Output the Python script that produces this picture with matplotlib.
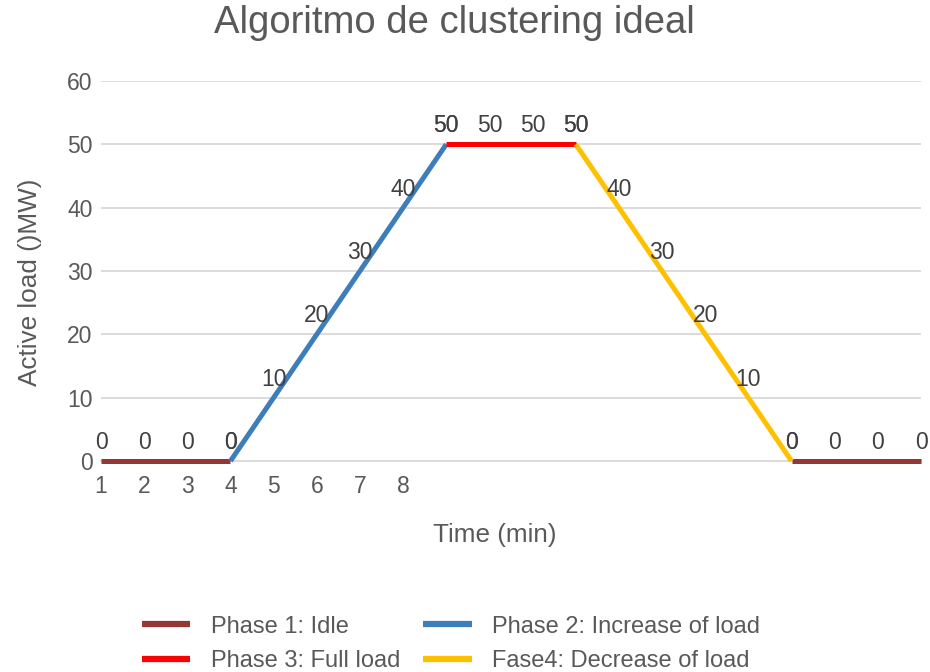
import matplotlib
matplotlib.use("Agg")
import matplotlib.pyplot as plt
import numpy as np

plt.rcParams['font.family'] = ['Liberation Sans', 'DejaVu Sans']

tick_labels = ["1", "2", "3", "4", "5", "6", "7", "8"]

phase1_x = [1, 2, 3, 4, 17, 18, 19, 20]
phase1_y = [0, 0, 0, 0, 0, 0, 0, 0]
phase2_x = [4, 5, 6, 7, 8, 9]
phase2_y = [0, 10, 20, 30, 40, 50]
phase3_x = [9, 10, 11, 12]
phase3_y = [50, 50, 50, 50]
phase4_x = [12, 13, 14, 15, 16, 17]
phase4_y = [50, 40, 30, 20, 10, 0]

names = ["Phase 1: Idle", "Phase 2: Increase of load",
         "Phase 3: Full load", "Fase4: Decrease of load"]
colors = ["#953735", "#3D7EBA", "#FF0000", "#FFC000"]

W, H = 930, 672
fig = plt.figure(figsize=(W/100, H/100), dpi=100)
ax = fig.add_axes([101/W, 1-461/H, (921-101)/W, (461-81)/H])

gray = "#595959"
grid = "#D9D9D9"
LW = 3.6

l1, = ax.plot(phase1_x[:4], phase1_y[:4], color=colors[0], lw=LW, solid_capstyle='butt', zorder=3, clip_on=False)
ax.plot(phase1_x[4:], phase1_y[4:], color=colors[0], lw=LW, solid_capstyle='butt', zorder=3, clip_on=False)
l2, = ax.plot(phase2_x, phase2_y, color=colors[1], lw=LW, solid_capstyle='butt', zorder=3, clip_on=False)
l3, = ax.plot(phase3_x, phase3_y, color=colors[2], lw=LW, solid_capstyle='butt', zorder=3, clip_on=False)
l4, = ax.plot(phase4_x, phase4_y, color=colors[3], lw=LW, solid_capstyle='butt', zorder=3, clip_on=False)

for xs, ys in [(phase1_x, phase1_y), (phase2_x, phase2_y), (phase3_x, phase3_y), (phase4_x, phase4_y)]:
    for xv, yv in zip(xs, ys):
        ax.annotate(str(yv), (xv, yv), xytext=(0, 18.5), textcoords='offset pixels',
                    ha='center', va='center', fontsize=16.5, color="#404040", zorder=4,
                    annotation_clip=False)

ax.set_xlim(1, 20)
ax.set_ylim(0, 60)
ax.set_yticks(range(0, 61, 10))
ax.set_xticks(range(1, 9))
ax.set_xticklabels(tick_labels)
ax.tick_params(axis='both', length=0, labelsize=16.5, labelcolor=gray)
ax.tick_params(axis='x', pad=10)
ax.tick_params(axis='y', pad=6)
ax.grid(axis='y', color=grid, lw=1.3)
ax.set_axisbelow(True)
for s in ['top', 'right', 'left']:
    ax.spines[s].set_visible(False)
ax.spines['bottom'].set_color(grid)
ax.spines['bottom'].set_linewidth(1.3)

fig.text(454/W, 1-23/H, "Algoritmo de clustering ideal", ha='center', va='center',
         fontsize=27.5, color=gray)
fig.text(30/W, 1-282/H, "Active load ()MW)", rotation=90, ha='center', va='center',
         fontsize=18.8, color=gray)
fig.text(495/W, 1-535/H, "Time (min)", ha='center', va='center', fontsize=18.8, color=gray)

# row-wise order: matplotlib fills columns first
handles = [l1, l3, l2, l4]
labels = [names[0], names[2], names[1], names[3]]
leg = fig.legend(handles, labels, ncol=2, loc='center',
                 bbox_to_anchor=(451/W, 1-644/H), frameon=False, fontsize=17,
                 handlelength=2.05, handletextpad=0.85, columnspacing=1.0,
                 labelspacing=0.55, labelcolor=gray, borderpad=0)
for h in leg.get_lines():
    h.set_linewidth(4.5)

fig.savefig("out.png", dpi=100)
